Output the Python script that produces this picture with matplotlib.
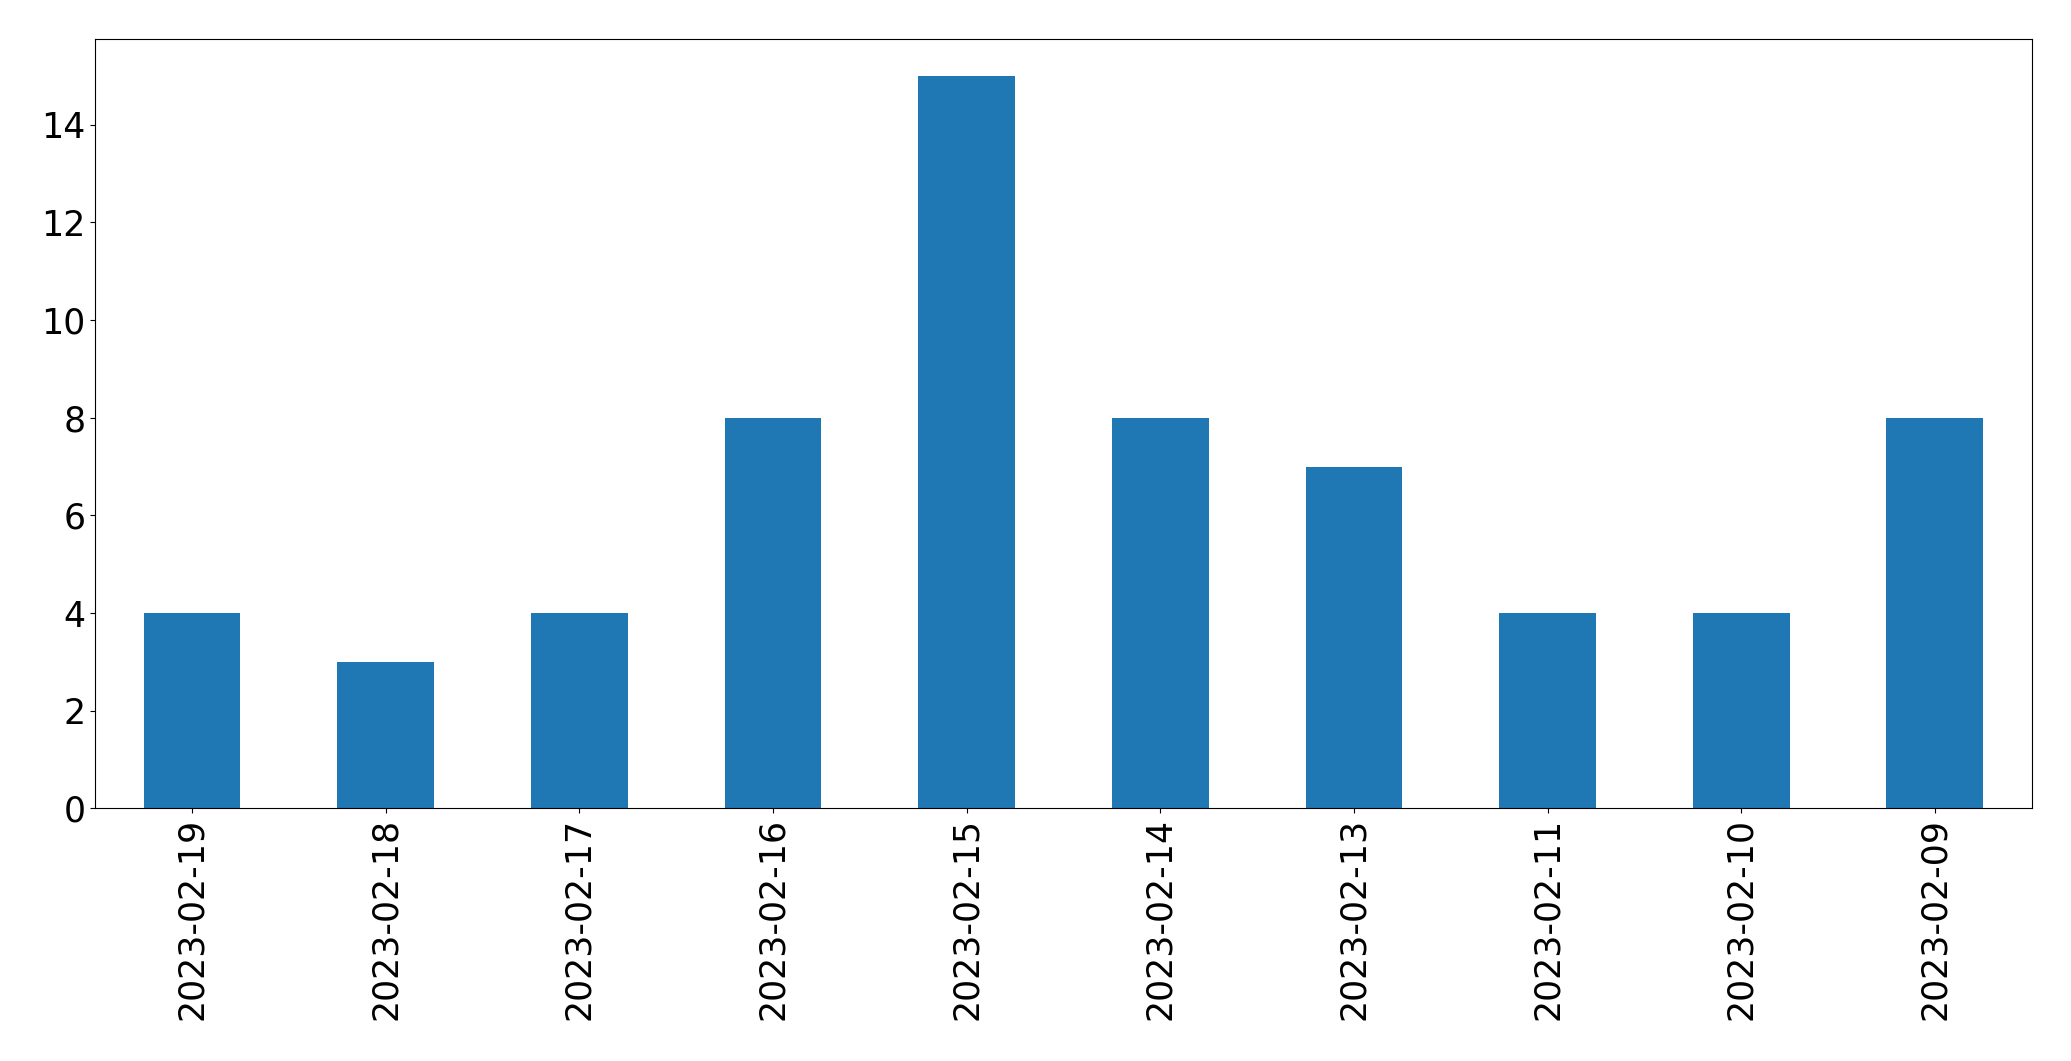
import matplotlib
matplotlib.use("Agg")
import matplotlib.pyplot as plt
import pandas as pd

dates = ["2023-02-19", "2023-02-18", "2023-02-17", "2023-02-16", "2023-02-15",
         "2023-02-14", "2023-02-13", "2023-02-11", "2023-02-10", "2023-02-09"]
counts = [4, 3, 4, 8, 15, 8, 7, 4, 4, 8]

s = pd.Series(counts, index=dates)

fig = plt.figure(figsize=(20.71, 10.61), dpi=100)
ax = fig.add_axes([0.046, 0.238, 0.935, 0.725])
s.plot(kind="bar", ax=ax, color="#1f77b4")
ax.tick_params(labelsize=25)

fig.savefig("out.png", dpi=100)
